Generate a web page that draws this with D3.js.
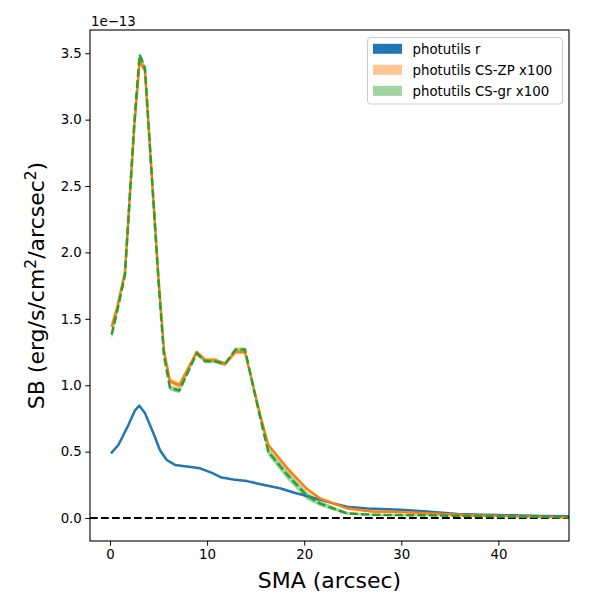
<!DOCTYPE html>
<html>
<head>
<meta charset="utf-8">
<script src="https://cdn.jsdelivr.net/npm/d3@7"></script>
<style>
  html, body { margin: 0; padding: 0; background: #fff; }
  svg { display: block; }
  text { font-family: "DejaVu Sans", sans-serif; fill: #000; }
</style>
</head>
<body>
<svg id="chart" width="600" height="600"></svg>
<script>
// ---- data (SB in units of 1e-13) ----
const smaCS = [0.17, 0.72, 1.54, 2.5, 3.05, 3.6, 4.3, 5.0, 5.56, 6.18, 7.14, 8.93, 9.8, 10.8, 11.84, 12.94, 13.9, 15.45, 16.3, 18.2, 20.25, 21.6, 24.4, 26.9, 29.9, 33.0, 36.5, 40.0, 44.0, 48.0];
const sbZP   = [1.44, 1.58, 1.85, 2.95, 3.44, 3.37, 2.58, 1.80, 1.26, 1.03, 1.00, 1.25, 1.19, 1.19, 1.16, 1.25, 1.25, 0.78, 0.55, 0.38, 0.22, 0.148, 0.073, 0.05, 0.045, 0.035, 0.022, 0.015, 0.010, 0.006];
const errZP  = [0.03, 0.025, 0.02, 0.02, 0.02, 0.02, 0.02, 0.02, 0.02, 0.02, 0.02, 0.015, 0.015, 0.015, 0.015, 0.015, 0.015, 0.015, 0.015, 0.015, 0.012, 0.01, 0.008, 0.008, 0.008, 0.006, 0.005, 0.004, 0.004, 0.004];
const sbGR   = [1.38, 1.55, 1.83, 2.97, 3.49, 3.39, 2.58, 1.78, 1.22, 0.98, 0.96, 1.24, 1.18, 1.18, 1.16, 1.27, 1.27, 0.76, 0.50, 0.33, 0.17, 0.11, 0.035, 0.025, 0.022, 0.020, 0.016, 0.012, 0.010, 0.006];
const errGR  = [0.035, 0.03, 0.025, 0.025, 0.02, 0.02, 0.02, 0.02, 0.02, 0.02, 0.02, 0.015, 0.015, 0.015, 0.015, 0.015, 0.015, 0.02, 0.03, 0.035, 0.03, 0.02, 0.01, 0.008, 0.008, 0.006, 0.005, 0.004, 0.004, 0.004];

const smaR = [0.1, 0.86, 1.89, 2.57, 3.02, 3.6, 4.46, 5.15, 5.84, 6.7, 7.7, 9.27, 10.5, 11.5, 12.7, 14.1, 15.5, 17.5, 19.0, 20.25, 23.0, 24.4, 26.5, 29.9, 32.3, 35.8, 38.5, 41.2, 44.5, 48.0];
const sbR  = [0.487, 0.55, 0.70, 0.81, 0.846, 0.79, 0.64, 0.51, 0.437, 0.40, 0.39, 0.374, 0.34, 0.305, 0.29, 0.278, 0.255, 0.224, 0.19, 0.166, 0.11, 0.085, 0.072, 0.062, 0.051, 0.030, 0.024, 0.020, 0.015, 0.012];

const xTicks = [0, 10, 20, 30, 40];
const yTicks = [0.0, 0.5, 1.0, 1.5, 2.0, 2.5, 3.0, 3.5];
const legendLabels = ["photutils r", "photutils CS-ZP x100", "photutils CS-gr x100"];
const colors = ["#1f77b4", "#ff7f0e", "#2ca02c"];

// ---- layout ----
const L = 90, R = 569, T = 30, B = 541;
const svg = d3.select("#chart");

const x = d3.scaleLinear().domain([-2.06, 47.27]).range([L, R]);
const y = d3.scaleLinear().domain([-0.173, 3.675]).range([B, T]);

svg.append("defs").append("clipPath").attr("id", "clip")
  .append("rect").attr("x", L).attr("y", T).attr("width", R - L).attr("height", B - T);

const plot = svg.append("g").attr("clip-path", "url(#clip)");

const idx = d3.range(smaCS.length);
const area = (vals, errs) => d3.area()
  .x(i => x(smaCS[i])).y0(i => y(vals[i] - errs[i])).y1(i => y(vals[i] + errs[i]));

// bands
plot.append("path").datum(idx).attr("d", area(sbZP, errZP))
  .attr("fill", colors[1]).attr("fill-opacity", 0.45);
plot.append("path").datum(idx).attr("d", area(sbGR, errGR))
  .attr("fill", colors[2]).attr("fill-opacity", 0.45);

// zero line
plot.append("line").attr("x1", L).attr("x2", R).attr("y1", y(0)).attr("y2", y(0))
  .attr("stroke", "#000").attr("stroke-width", 2).attr("stroke-dasharray", "7.7,3.3");

// blue line
const lineR = d3.line().x(i => x(smaR[i])).y(i => y(sbR[i]));
plot.append("path").datum(d3.range(smaR.length)).attr("d", lineR)
  .attr("fill", "none").attr("stroke", colors[0]).attr("stroke-width", 2.5)
  .attr("stroke-linejoin", "round");

// orange line
const lineCS = vals => d3.line().x(i => x(smaCS[i])).y(i => y(vals[i]));
plot.append("path").datum(idx).attr("d", lineCS(sbZP))
  .attr("fill", "none").attr("stroke", colors[1]).attr("stroke-width", 2.5)
  .attr("stroke-linejoin", "round");
// green dashed
plot.append("path").datum(idx).attr("d", lineCS(sbGR))
  .attr("fill", "none").attr("stroke", colors[2]).attr("stroke-width", 2.5)
  .attr("stroke-dasharray", "8,3.3");

// axes
const xAxis = d3.axisBottom(x).tickValues(xTicks).tickSize(4.67).tickPadding(3.5).tickFormat(d3.format("d"));
const yAxis = d3.axisLeft(y).tickValues(yTicks).tickSize(4.67).tickPadding(3.5).tickFormat(d3.format(".1f"));
const gx = svg.append("g").attr("transform", `translate(0,${B})`).call(xAxis);
const gy = svg.append("g").attr("transform", `translate(${L},0)`).call(yAxis);
[gx, gy].forEach(g => {
  g.select(".domain").remove();
  g.selectAll("line").attr("stroke", "#000").attr("stroke-width", 1);
  g.selectAll("text").attr("font-size", "13.33px").attr("font-family", "DejaVu Sans").attr("fill", "#000");
});

// frame
svg.append("rect").attr("x", L).attr("y", T).attr("width", R - L).attr("height", B - T)
  .attr("fill", "none").attr("stroke", "#000").attr("stroke-width", 1.1);

// offset text
svg.append("text").attr("x", L + 1).attr("y", 26).attr("font-size", "13.33px").text("1e\u221213");

// axis labels
svg.append("text").attr("x", (L + R) / 2).attr("y", 588).attr("text-anchor", "middle")
  .attr("font-size", "22px").text("SMA (arcsec)");

const yl = svg.append("text").attr("transform", `translate(44,${(T + B) / 2}) rotate(-90)`)
  .attr("text-anchor", "middle").attr("font-size", "22px");
yl.append("tspan").text("SB (erg/s/cm");
yl.append("tspan").attr("font-size", "15.4px").attr("dy", -8).text("2");
yl.append("tspan").attr("dy", 8).text("/arcsec");
yl.append("tspan").attr("font-size", "15.4px").attr("dy", -8).text("2");
yl.append("tspan").attr("dy", 8).text(")");

// legend
const lg = svg.append("g");
lg.append("rect").attr("x", 367.5).attr("y", 37.5).attr("width", 195).attr("height", 66.5)
  .attr("rx", 3).attr("fill", "#fff").attr("fill-opacity", 0.8)
  .attr("stroke", "#cccccc").attr("stroke-width", 1);
legendLabels.forEach((lab, i) => {
  const cy = 48.8 + i * 21;
  lg.append("rect").attr("x", 373).attr("y", cy - 5).attr("width", 29).attr("height", 10)
    .attr("fill", colors[i]).attr("fill-opacity", i === 0 ? 1 : 0.45);
  lg.append("text").attr("x", 412.5).attr("y", cy + 4.8).attr("font-size", "13.33px").text(lab);
});
</script>
</body>
</html>
